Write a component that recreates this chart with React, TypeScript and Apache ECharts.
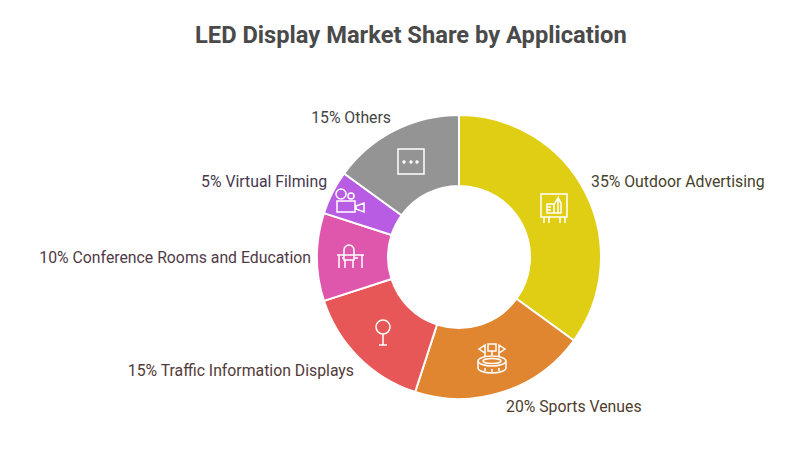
import React, { useEffect, useRef } from "react";
import * as echarts from "echarts";

const title = "LED Display Market Share by Application";
const categories = ["Outdoor Advertising", "Sports Venues", "Traffic Information Displays", "Conference Rooms and Education", "Virtual Filming", "Others"];
const shares = [35, 20, 15, 10, 5, 15];
const sliceColors = ["#E0CE15", "#E08530", "#E85757", "#DE57AD", "#B85CE3", "#949494"];
const labelColors = ["#47422A", "#4F3D2E", "#523A38", "#503A47", "#47384F", "#454545"];
const labelAnchors: [number, number][] = [[591, 181], [506, 406], [354, 370], [311, 257], [327, 181], [391, 117]];

const icons: { d: string; x: number; y: number }[] = [
  {
    x: 554, y: 206,
    d: "M-13 -12H13V11H-13ZM-10 11V17M-5 11V17M6 11V17M11 11V17M-7 -2H0V7H-7ZM-7 1H-3M-7 4H-3M0 -2L1 -3L4 -8V7H0M4 -8L7 -3V7H4",
  },
  {
    x: 492, y: 357,
    d: "M-14 4A14 5 0 1 0 14 4A14 5 0 1 0 -14 4ZM-9 4A9 2.5 0 1 0 9 4A9 2.5 0 1 0 -9 4ZM-14 4V11A14 5 0 0 0 14 11V4M-7 14V11M0 15V12M7 14V11M-4 -13H4V-6H-4ZM0 -6V-1M-7 -12L-13 -8L-7 -4ZM-7 -4V0M7 -12L13 -8L7 -4ZM7 -4V0",
  },
  { x: 383, y: 327, d: "M-7 0A7 7 0 1 0 7 0A7 7 0 1 0 -7 0ZM0 7V18M-4 18H4" },
  {
    x: 350, y: 257,
    d: "M-13 -2H14M-11 -2V11M12 -2V11M-6 -2V-7A5 5 0 0 1 4 -7V-2M-6 -2V3H4V-2M-5 3V11M3 3V11M-8 1H-6M4 1H8",
  },
  {
    x: 349, y: 201,
    d: "M-13 -7A5 5 0 1 0 -3 -7A5 5 0 1 0 -13 -7ZM-1 -5A3 3 0 1 0 5 -5A3 3 0 1 0 -1 -5ZM-12 0H6V11H-12ZM7 5L15 2V11L7 8Z",
  },
  { x: 411, y: 161, d: "M-13 -12H13V13H-13Z" },
];
const dotOffsets = [-7, 0, 6];

icons.forEach((icon, i) => echarts.graphic.registerShape("icon" + i, echarts.graphic.extendPath(icon.d, {})));

export default function App() {
  const ref = useRef<HTMLDivElement>(null);
  useEffect(() => {
    document.body.style.margin = "0";
    const chart = echarts.init(ref.current!, undefined, { renderer: "svg" });
    const iconStyle = { fill: "none", stroke: "#fff", lineWidth: 1.5 };
    chart.setOption({
      animation: false,
      backgroundColor: "#fff",
      title: {
        text: title,
        left: 195,
        top: 23,
        padding: 0,
        textStyle: { fontFamily: "Roboto", fontSize: 23.7, fontWeight: 700, color: "#4A4A4A" },
      },
      series: [
        {
          type: "pie",
          center: [459, 257],
          radius: [71, 142],
          startAngle: 90,
          clockwise: true,
          data: categories.map((name, i) => ({
            name,
            value: shares[i],
            itemStyle: { color: sliceColors[i], borderColor: "#fff", borderWidth: 2 },
            label: { color: labelColors[i] },
          })),
          label: {
            show: true,
            position: "outside",
            formatter: (p: any) => `${p.value}% ${p.name}`,
            fontFamily: "Roboto",
            fontSize: 15.8,
            overflow: "none",
            width: 400,
          },
          labelLine: { show: false },
          labelLayout: (p: any) => {
            const [ax, ay] = labelAnchors[p.dataIndex];
            return {
              x: ax,
              y: ay,
              align: p.dataIndex < 2 ? "left" : "right",
              verticalAlign: "middle",
            };
          },
        },
      ],
      graphic: [
        ...icons.map((icon, i) => ({ type: "icon" + i, x: icon.x, y: icon.y, style: iconStyle, z: 10 })),
        ...dotOffsets.map((dx) => ({
          type: "circle",
          shape: { cx: icons[5].x + dx, cy: icons[5].y + 1, r: 1.7 },
          style: { fill: "#fff" },
          z: 10,
        })),
      ],
    });
    return () => chart.dispose();
  }, []);
  return <div ref={ref} style={{ width: 800, height: 450 }} />;
}
